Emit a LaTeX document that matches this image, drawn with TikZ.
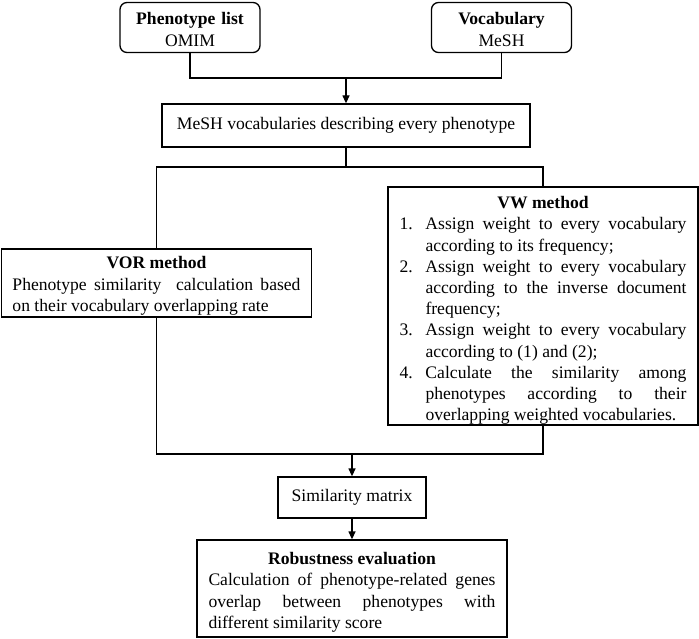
\documentclass[tikz,border=0pt]{standalone}
\usepackage{fontspec}
\setmainfont{Liberation Serif}
\usetikzlibrary{arrows.meta}
\newcommand{\vwitem}[2]{\par\hangindent=26pt\hangafter=1\noindent\makebox[26pt][l]{#1}#2\par}
\newcommand{\topstrut}[1]{\rule{0pt}{#1}}
\tolerance=9999
\hyphenpenalty=10000
\parindent=0pt
\begin{document}
\begin{tikzpicture}[x=1pt,y=-1pt,
  base/.style={draw,line width=1.3pt,inner xsep=0pt,inner ysep=0pt,
    font=\fontsize{17.6}{21.5}\selectfont},
  srcbox/.style={base,rounded corners=7pt,text width=140pt,minimum height=50pt,align=center},
  conn/.style={line width=1.3pt},
  arr/.style={conn,-{Triangle[length=8pt,width=7pt]}}]
\useasboundingbox (0,0) rectangle (699,639);

\node[srcbox] (pl) at (190,27.5) {\topstrut{16pt}\textbf{Phenotype list}\\OMIM};
\node[srcbox] (voc) at (501.5,27.5) {\topstrut{16pt}\textbf{Vocabulary}\\MeSH};
\node[base,minimum width=368pt,minimum height=43pt] (mesh) at (346,125.5)
  {MeSH vocabularies describing every phenotype};
\node[base,text width=288pt,inner xsep=11pt,minimum height=68pt,align=justify] (vor) at (156.5,283)
  {{\centering\bfseries\topstrut{18pt}VOR method\par}Phenotype similarity\ \ calculation based on their vocabulary overlapping rate};
\node[base,font=\fontsize{17.6}{21.2}\selectfont,text width=287pt,inner xsep=11.5pt,minimum height=238pt,align=justify] (vw) at (543,306)
  {{\centering\bfseries\topstrut{21pt}VW method\par}%
   \vwitem{1.}{Assign weight to every vocabulary according to its frequency;}%
   \vwitem{2.}{Assign weight to every vocabulary according to the inverse document frequency;}%
   \vwitem{3.}{Assign weight to every vocabulary according to (1) and (2);}%
   \vwitem{4.}{Calculate the similarity among phenotypes according to their overlapping weighted vocabularies.}};
\node[base,minimum width=148pt,minimum height=41pt] (sim) at (352,497.5) {Similarity matrix};
\node[base,text width=287pt,inner xsep=11.5pt,minimum height=97pt,align=justify] (rob) at (352,588.5)
  {{\centering\bfseries\topstrut{20pt}Robustness evaluation\par}Calculation of phenotype-related genes overlap between phenotypes with different similarity score};

\coordinate (j1) at (346,78);
\coordinate (j2) at (346,167);
\coordinate (j3) at (352,454);
\draw[conn] (pl.south) |- (j1) -| (voc.south);
\draw[arr] (j1) -- (mesh.north);
\draw[conn] (mesh.south) -- (j2);
\draw[conn] (vor.north) |- (j2) -| (vw.north);
\draw[conn] (vor.south) |- (j3) -| (vw.south);
\draw[arr] (j3) -- (sim.north);
\draw[arr] (sim.south) -- (rob.north);
\end{tikzpicture}
\end{document}
